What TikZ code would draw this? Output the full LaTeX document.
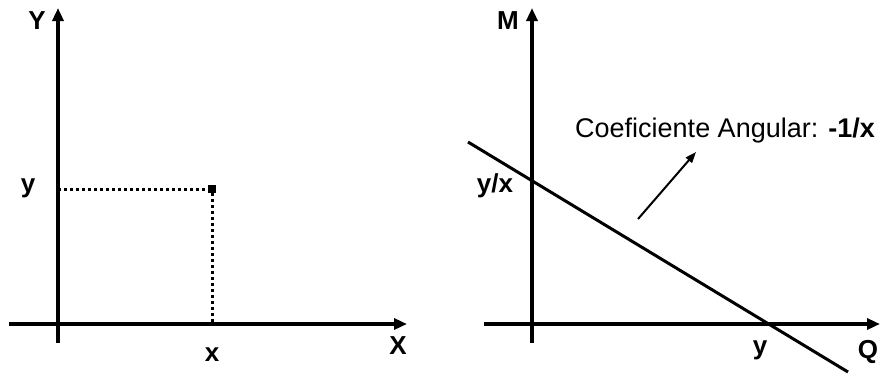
\documentclass[tikz,border=0pt]{standalone}
\usepackage{fontspec}
\setmainfont{Liberation Sans}
\usetikzlibrary{arrows.meta}
\begin{document}
\begin{tikzpicture}[x=1pt,y=-1pt,
	axis/.style={line width=4pt,-{Triangle[length=13pt,width=11pt]}},
	lbl/.style={font=\fontsize{26}{26}\selectfont\bfseries,inner sep=0pt},
	guide/.style={line width=3pt,dash pattern=on 3pt off 3pt}]
	\useasboundingbox (0,0) rectangle (882,376);
	% left panel
	\coordinate (ybot) at (58,343);
	\coordinate (ytop) at (58,8);
	\coordinate (xleft) at (9,324);
	\coordinate (xright) at (407,324);
	\coordinate (yfoot) at (58,189);
	\coordinate (xfoot) at (212,324);
	\draw[axis] (ybot) to (ytop);
	\draw[axis] (xleft) to (xright);
	\node[fill,minimum size=8pt,inner sep=0pt] (pt) at (212,189) {};
	\draw[guide] (yfoot) to (pt.west);
	\draw[guide] (pt.south) to (xfoot);
	\node[lbl] (Ylab) at (37,21) {Y};
	\node[lbl] (Xlab) at (398,346) {X};
	\node[lbl] (ylab) at (28,188) {y};
	\node[lbl] (xlab) at (212,355) {x};
	% right panel
	\coordinate (mbot) at (532,343);
	\coordinate (mtop) at (532,8);
	\coordinate (qleft) at (484,324);
	\coordinate (qright) at (880,324);
	\coordinate (lstart) at (468,142);
	\coordinate (lend) at (848,372);
	\coordinate (atail) at (638,219);
	\coordinate (ahead) at (696,152);
	\draw[axis] (mbot) to (mtop);
	\draw[axis] (qleft) to (qright);
	\draw[line width=3pt] (lstart) to (lend);
	\draw[line width=2pt,-{Triangle[length=11pt,width=8pt]}] (atail) to (ahead);
	\node[lbl] (Mlab) at (508,21) {M};
	\node[lbl] (Qlab) at (868,352) {Q};
	\node[lbl] (yqlab) at (760,350) {y};
	\node[lbl] (yxlab) at (495,186) {y/x};
	\node[anchor=base west,inner sep=0pt,font=\fontsize{27}{27}\selectfont] (coef) at (575,137) {Coeficiente Angular: \textbf{-1/x}};
\end{tikzpicture}
\end{document}
